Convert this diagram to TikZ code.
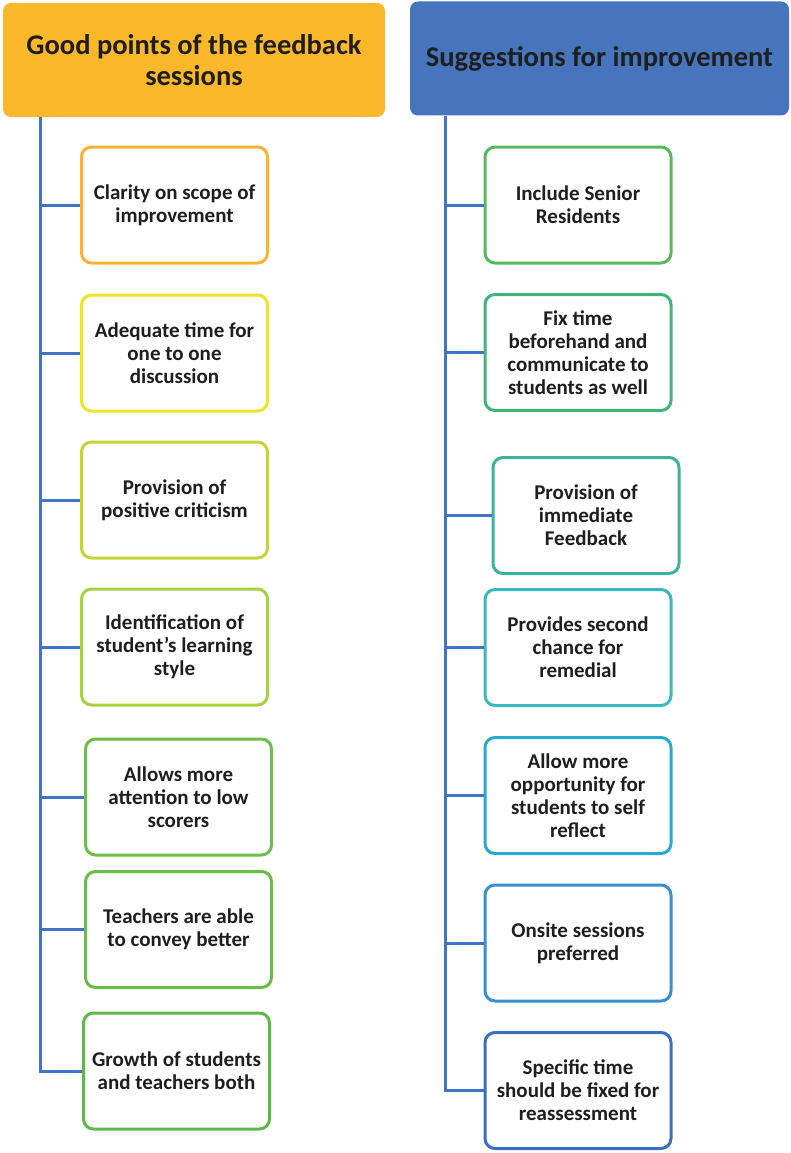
\documentclass[tikz,border=0pt]{standalone}
\usepackage{fontspec}
\setmainfont{Carlito}
\usetikzlibrary{positioning}

\definecolor{hdrorange}{RGB}{251,184,42}
\definecolor{hdrblue}{RGB}{70,117,190}
\definecolor{trunkblue}{RGB}{68,114,196}
\definecolor{txtgray}{RGB}{30,30,30}
\definecolor{cA}{RGB}{249,178,51}
\definecolor{cB}{RGB}{240,228,40}
\definecolor{cC}{RGB}{196,212,50}
\definecolor{cD}{RGB}{168,208,64}
\definecolor{cE}{RGB}{108,190,72}
\definecolor{cF}{RGB}{104,190,70}
\definecolor{cG}{RGB}{92,184,72}
\definecolor{cH}{RGB}{88,184,92}
\definecolor{cI}{RGB}{62,182,122}
\definecolor{cJ}{RGB}{58,180,156}
\definecolor{cK}{RGB}{56,186,192}
\definecolor{cL}{RGB}{40,170,208}
\definecolor{cM}{RGB}{56,144,208}
\definecolor{cN}{RGB}{58,110,190}

\begin{document}
\begin{tikzpicture}[x=1pt, y=-1pt,
    every node/.style = {align=center, text=txtgray, font=\bfseries\fontsize{21}{23}\selectfont},
    header/.style = {rectangle, rounded corners=8pt, minimum height=114pt, font=\bfseries\fontsize{28.5}{31}\selectfont},
    item/.style = {rectangle, draw, line width=3pt, rounded corners=10pt, fill=white, minimum width=186pt, minimum height=116pt},
    branch/.style = {line width=3pt, trunkblue}
]
    \useasboundingbox (0,0) rectangle (790,1153);

    % headers
    \node[header, fill=hdrorange, minimum width=382pt] (good) at (194,60) {Good points of the feedback\\sessions};
    \node[header, fill=hdrblue, minimum width=379pt] (sugg) at (599.5,58.5) {Suggestions for improvement};

    % good points
    \node[item, draw=cA] (g1) at (174.5,205) {Clarity on scope of\\improvement};
    \node[item, draw=cB] (g2) at (174.5,353) {Adequate time for\\one to one\\discussion};
    \node[item, draw=cC] (g3) at (174.5,500) {Provision of\\positive criticism};
    \node[item, draw=cD] (g4) at (174.5,647) {Identification of\\student's learning\\style};
    \node[item, draw=cE] (g5) at (178.5,797) {Allows more\\attention to low\\scorers};
    \node[item, draw=cF] (g6) at (178.5,929.5) {Teachers are able\\to convey better};
    \node[item, draw=cG] (g7) at (176.5,1071) {Growth of students\\and teachers both};

    % suggestions
    \node[item, draw=cH] (s1) at (578,205) {Include Senior\\Residents};
    \node[item, draw=cI] (s2) at (578,352.5) {Fix time\\beforehand and\\communicate to\\students as well};
    \node[item, draw=cJ] (s3) at (586,515.5) {Provision of\\immediate\\Feedback};
    \node[item, draw=cK] (s4) at (578,647.5) {Provides second\\chance for\\remedial};
    \node[item, draw=cL] (s5) at (578,795.5) {Allow more\\opportunity for\\students to self\\reflect};
    \node[item, draw=cM] (s6) at (578,943) {Onsite sessions\\preferred};
    \node[item, draw=cN] (s7) at (578,1090.5) {Specific time\\should be fixed for\\reassessment};

    % trunks
    \coordinate (gtop) at (40,117);
    \coordinate (stop) at (445,116);
    \draw[branch] (gtop) |- (g7.west);
    \draw[branch] (stop) |- (s7.west);
    \foreach \i in {1,...,6} {
        \draw[branch] (g\i.west) -- (g\i.west -| gtop);
        \draw[branch] (s\i.west) -- (s\i.west -| stop);
    }
\end{tikzpicture}
\end{document}
